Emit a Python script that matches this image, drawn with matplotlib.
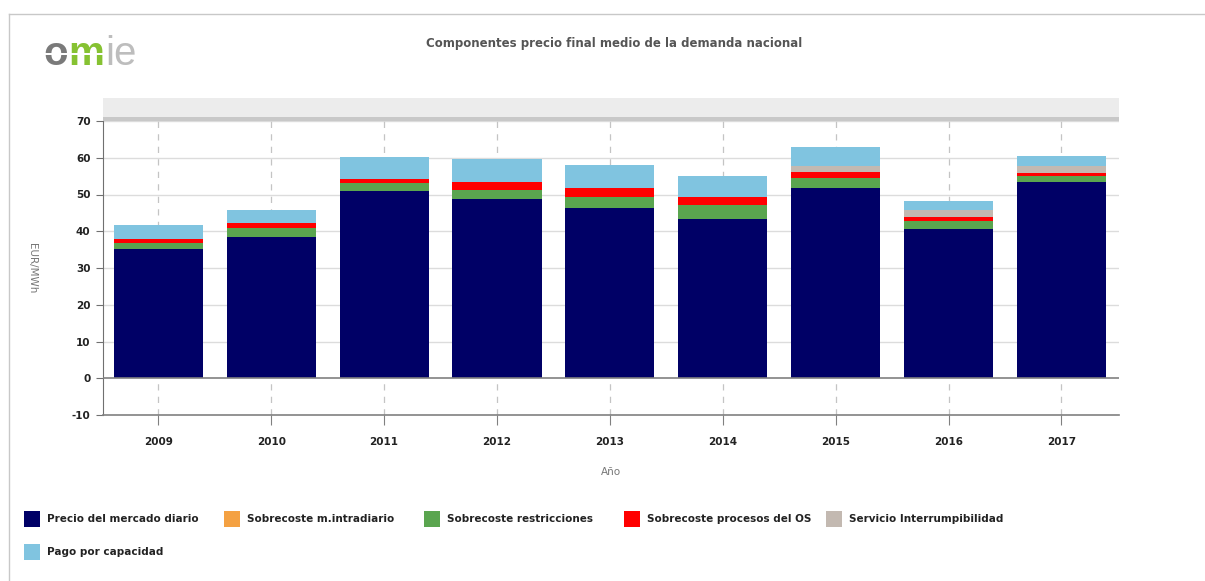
import matplotlib
matplotlib.use("Agg")
import matplotlib.pyplot as plt
from matplotlib.patches import Rectangle
from matplotlib.lines import Line2D
import numpy as np

plt.rcParams["axes.unicode_minus"] = False

years = ["2009", "2010", "2011", "2012", "2013", "2014", "2015", "2016", "2017"]
precio_mercado = [35.2, 38.4, 50.9, 48.9, 46.2, 43.3, 51.8, 40.6, 53.4]
sobrecoste_intradiario = [0.0, 0.0, 0.0, 0.0, 0.0, 0.0, 0.0, 0.0, 0.0]
sobrecoste_restricciones = [1.7, 2.6, 2.2, 2.4, 3.1, 3.8, 2.6, 2.3, 1.5]
sobrecoste_procesos_os = [1.1, 1.2, 1.2, 2.2, 2.6, 2.1, 1.6, 0.9, 1.0]
servicio_interrumpibilidad = [0.0, 0.0, 0.0, 0.0, 0.0, 0.0, 1.8, 1.9, 1.8]
pago_capacidad = [3.6, 3.6, 5.9, 6.2, 6.1, 5.7, 5.1, 2.6, 2.9]

series_names = ["Precio del mercado diario", "Sobrecoste m.intradiario",
                "Sobrecoste restricciones", "Sobrecoste procesos del OS",
                "Servicio Interrumpibilidad", "Pago por capacidad"]
series_values = [precio_mercado, sobrecoste_intradiario, sobrecoste_restricciones,
                 sobrecoste_procesos_os, servicio_interrumpibilidad, pago_capacidad]
series_colors = ["#000066", "#f4a142", "#5aa54f", "#ff0000", "#c3b9b1", "#80c4e0"]

W, H = 1205, 581
fig = plt.figure(figsize=(W / 100, H / 100), dpi=100)

def fx(px):
    return px / W

def fy(py):
    return 1 - py / H

# outer frame lines
fig.add_artist(Line2D([fx(9), fx(9)], [fy(14), 0], color="#c8c8c8", lw=1))
fig.add_artist(Line2D([fx(9), 1], [fy(14), fy(14)], color="#c8c8c8", lw=1))

# axes
ax_l, ax_r, ax_t, ax_b = 103, 1119, 121, 415
ax = fig.add_axes([fx(ax_l), fy(ax_b), fx(ax_r - ax_l), fy(ax_t) - fy(ax_b)])

x = np.arange(len(years))
bottom = np.zeros(len(years))
for name, vals, col in zip(series_names, series_values, series_colors):
    v = np.array(vals)
    ax.bar(x, v, bottom=bottom, width=0.79, color=col, edgecolor="none", zorder=3)
    bottom += v

ax.set_xlim(-0.49, 8.51)
ax.set_ylim(-10, 70)
ax.set_yticks(range(-10, 71, 10))
ax.set_xticks(x)
ax.set_xticklabels(years)

# grids
for yv in range(-10, 71, 10):
    if yv == 0:
        ax.axhline(yv, color="#808080", lw=1.2, zorder=4)
    elif yv > -10:
        ax.axhline(yv, color="#dcdcdc", lw=1, zorder=1)
for xv in x:
    ax.axvline(xv, color="#c4c4c4", lw=0.9, ls=(0, (5, 5)), zorder=1)

for s in ["top", "right"]:
    ax.spines[s].set_visible(False)
ax.spines["left"].set_color("#707070")
ax.spines["bottom"].set_color("#808080")
ax.spines["bottom"].set_linewidth(1.2)
ax.tick_params(axis="y", length=5, color="#707070", labelsize=7.5, labelcolor="#222222", pad=4)
ax.tick_params(axis="x", length=7, color="#808080", labelsize=7.5, labelcolor="#222222", pad=9)
for lab in ax.get_xticklabels() + ax.get_yticklabels():
    lab.set_fontweight("bold")

ax.set_xlabel("Año", fontsize=7.5, color="#777777", labelpad=14)
fig.text(fx(32), fy(268), "EUR/MWh", rotation=-90, fontsize=7.5, color="#777777",
         ha="center", va="center")

# header bar above plot
fig.add_artist(Rectangle((fx(103), fy(118)), fx(1016), fy(98) - fy(118),
                         transform=fig.transFigure, facecolor="#ececec", edgecolor="none"))
fig.add_artist(Rectangle((fx(103), fy(121)), fx(1016), fy(117) - fy(121),
                         transform=fig.transFigure, facecolor="#c8c8c8", edgecolor="none"))

# title
fig.text(fx(614), fy(43), "Componentes precio final medio de la demanda nacional",
         fontsize=8.5, fontweight="bold", color="#555555", ha="center", va="center")

# logo: letters placed one after another
renderer = fig.canvas.get_renderer()
logo_parts = [("o", "bold", "#7a7a7a"), ("m", "bold", "#86c232"), ("ie", "normal", "#bdbdbd")]
cur_x = 43
for txt, wt, col in logo_parts:
    t = fig.text(fx(cur_x), fy(65), txt, fontsize=29, fontweight=wt, color=col,
                 ha="left", va="baseline", family="Liberation Sans")
    bb = t.get_window_extent(renderer=renderer)
    cur_x += bb.width + 1
fig.add_artist(Rectangle((fx(43), fy(55)), fx(64), fy(52.5) - fy(55),
                         transform=fig.transFigure, facecolor="white", edgecolor="none",
                         zorder=10))

# legend
leg_pos = [(24, 519), (224, 519), (424, 519), (624, 519), (826, 519), (24, 552)]
for (px, py), name, col in zip(leg_pos, series_names, series_colors):
    fig.add_artist(Rectangle((fx(px), fy(py + 8)), fx(16), fy(py - 8) - fy(py + 8),
                             transform=fig.transFigure, facecolor=col, edgecolor="none"))
    fig.text(fx(px + 23), fy(py), name, fontsize=7.5, fontweight="bold", color="#222222",
             ha="left", va="center")

fig.savefig("out.png", dpi=100)
